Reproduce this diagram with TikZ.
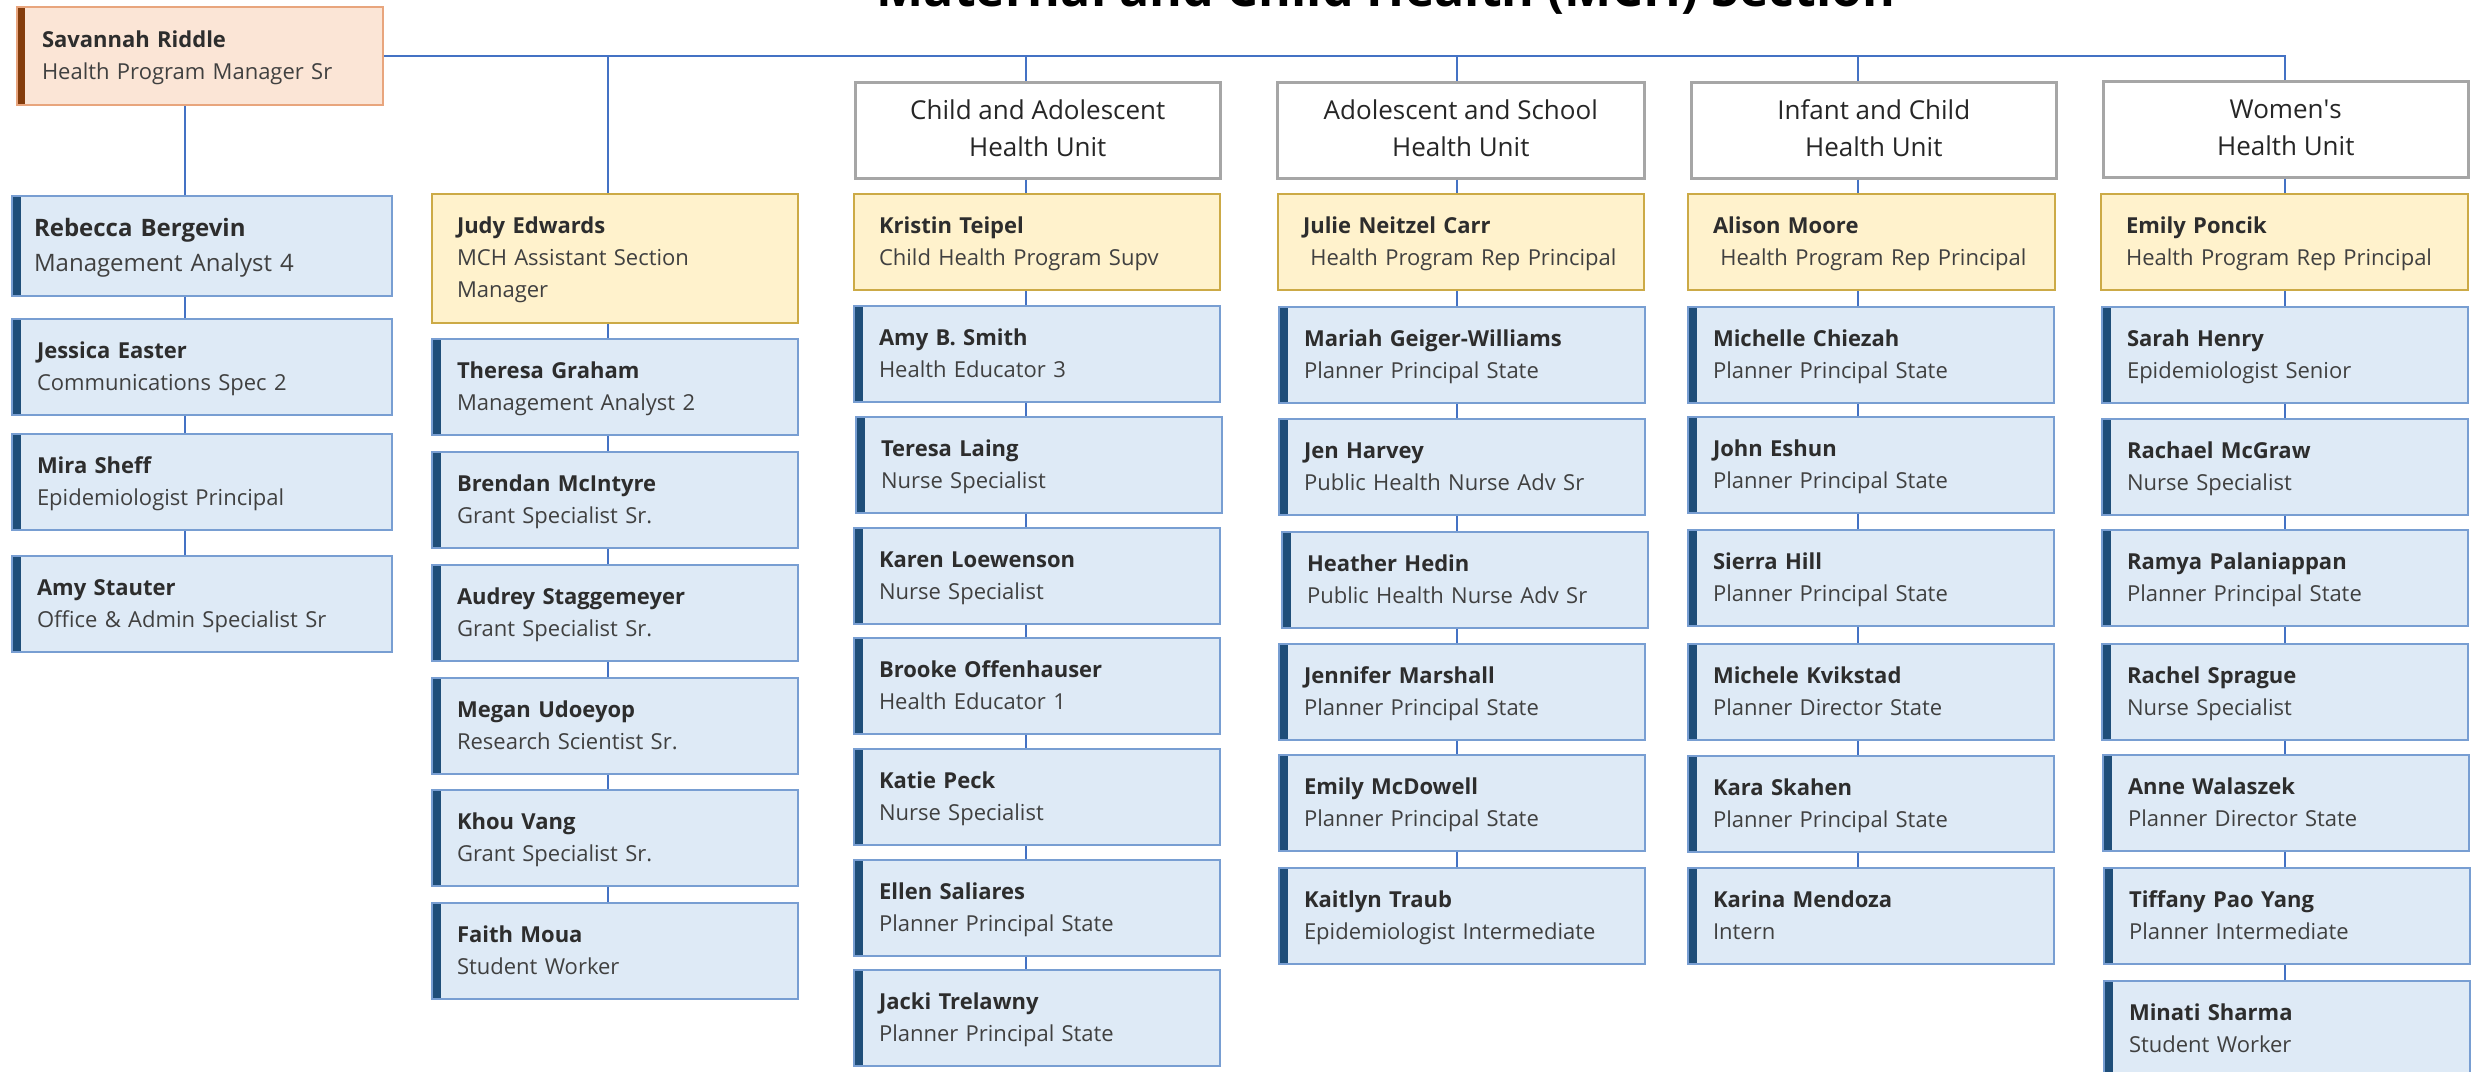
\documentclass[tikz,border=0pt]{standalone}
\usepackage{fontspec}
\setmainfont{Open Sans}
\definecolor{bfill}{RGB}{222,234,246}
\definecolor{bborder}{RGB}{120,158,210}
\definecolor{bbar}{RGB}{31,78,121}
\definecolor{yfill}{RGB}{255,242,204}
\definecolor{yborder}{RGB}{204,170,70}
\definecolor{ybar}{RGB}{127,96,0}
\definecolor{pfill}{RGB}{251,229,214}
\definecolor{pborder}{RGB}{232,165,125}
\definecolor{pbar}{RGB}{132,60,12}
\definecolor{hgray}{RGB}{166,166,166}
\definecolor{conn}{RGB}{68,114,196}
\definecolor{ntext}{RGB}{45,45,45}
\definecolor{ttext}{RGB}{64,64,64}
\newcommand\topstrut{\rule{0pt}{20pt}}
\newcommand\botstrut{\rule[-5pt]{0pt}{5pt}}
\newcommand\Person[7]{\node[#1, minimum width=#4pt, minimum height=#5pt, text width=#4pt-50pt] (#2) at (#3) {\topstrut{\color{ntext}\textbf{#6}}\\#7\botstrut};}
\newcommand\Unit[4]{\node[hdr, minimum width=#3pt] (#1) at (#2) {\rule{0pt}{22pt}#4\rule[-6pt]{0pt}{6pt}};}
\begin{document}
\begin{tikzpicture}[x=1pt,y=-1pt,
  pbase/.style={rectangle, draw, line width=2pt, anchor=north west, inner xsep=25pt, inner ysep=0pt, align=left, text=ttext, font=\fontsize{22}{32}\selectfont},
  bluebox/.style={pbase, fill=bfill, draw=bborder, path picture={\fill[bbar] (path picture bounding box.north west) rectangle ([xshift=9pt]path picture bounding box.south west);}},
  yelbox/.style={pbase, fill=yfill, draw=yborder, path picture={\fill[ybar] (path picture bounding box.north west) rectangle ([xshift=8pt]path picture bounding box.south west);}},
  pchbox/.style={pbase, fill=pfill, draw=pborder, path picture={\fill[pbar] (path picture bounding box.north west) rectangle ([xshift=8pt]path picture bounding box.south west);}},
  bigbox/.style={bluebox, inner xsep=22pt, font=\fontsize{24}{35}\selectfont},
  hdr/.style={rectangle, draw=hgray, line width=2.5pt, fill=white, anchor=north west, minimum height=96pt, align=center, inner sep=0pt, text=black!85, font=\fontsize{26}{37}\selectfont},
  link/.style={draw=conn, line width=2pt}
]
\useasboundingbox (0,0) rectangle (2478,1071);
\clip (0,0) rectangle (2478,1071);
\fill[white] (0,0) rectangle (2478,1071);

% title (cut at the top edge, as in the original)
\node[anchor=base, inner sep=0pt, font=\bfseries\fontsize{50}{60}\selectfont, text=black] (title) at (1386,6) {Maternal and Child Health (MCH) Section};

% top manager
\Person{pchbox}{sav}{16,6}{366}{98}{Savannah Riddle}{Health Program Manager Sr}

% column line positions
\coordinate (L1) at (185,55);
\coordinate (L2) at (608,55);
\coordinate (L3) at (1026,55);
\coordinate (L4) at (1457,55);
\coordinate (L5) at (1858,55);
\coordinate (L6) at (2285,55);

% column 1
\node[bigbox, minimum width=380pt, minimum height=100pt, text width=336pt] (reb) at (11,195) {\rule{0pt}{22pt}{\color{ntext}\textbf{Rebecca Bergevin}}\\Management Analyst 4\rule[-6pt]{0pt}{6pt}};
\Person{bluebox}{jes}{11,318}{380}{96}{Jessica Easter}{Communications Spec 2}
\Person{bluebox}{mir}{11,433}{380}{96}{Mira Sheff}{Epidemiologist Principal}
\Person{bluebox}{ams}{11,555}{380}{96}{Amy Stauter}{Office \& Admin Specialist Sr}

% column 2
\node[yelbox, minimum width=366pt, minimum height=129pt, text width=316pt] (jud) at (431,193) {\topstrut{\color{ntext}\textbf{Judy Edwards}}\\MCH Assistant Section\\Manager\botstrut};
\Person{bluebox}{the}{431,338}{366}{96}{Theresa Graham}{Management Analyst 2}
\Person{bluebox}{bre}{431,451}{366}{96}{Brendan McIntyre}{Grant Specialist Sr.}
\Person{bluebox}{aud}{431,564}{366}{96}{Audrey Staggemeyer}{Grant Specialist Sr.}
\Person{bluebox}{meg}{431,677}{366}{96}{Megan Udoeyop}{Research Scientist Sr.}
\Person{bluebox}{kho}{431,789}{366}{96}{Khou Vang}{Grant Specialist Sr.}
\Person{bluebox}{fai}{431,902}{366}{96}{Faith Moua}{Student Worker}

% column 3
\Unit{h3}{854,81}{365}{Child and Adolescent\\Health Unit}
\Person{yelbox}{kri}{853,193}{366}{96}{Kristin Teipel}{Child Health Program Supv}
\Person{bluebox}{abs}{853,305}{366}{96}{Amy B. Smith}{Health Educator 3}
\Person{bluebox}{tla}{855,416}{366}{96}{Teresa Laing}{Nurse Specialist}
\Person{bluebox}{kar}{853,527}{366}{96}{Karen Loewenson}{Nurse Specialist}
\Person{bluebox}{bro}{853,637}{366}{96}{Brooke Offenhauser}{Health Educator 1}
\Person{bluebox}{kat}{853,748}{366}{96}{Katie Peck}{Nurse Specialist}
\Person{bluebox}{ell}{853,859}{366}{96}{Ellen Saliares}{Planner Principal State}
\Person{bluebox}{jac}{853,969}{366}{96}{Jacki Trelawny}{Planner Principal State}

% column 4
\Unit{h4}{1276,81}{367}{Adolescent and School\\Health Unit}
\Person{yelbox}{jul}{1277,193}{366}{96}{Julie Neitzel Carr}{\ Health Program Rep Principal}
\Person{bluebox}{mar}{1278,306}{366}{96}{Mariah Geiger-Williams}{Planner Principal State}
\Person{bluebox}{jen}{1278,418}{366}{96}{Jen Harvey}{Public Health Nurse Adv Sr}
\Person{bluebox}{hea}{1281,531}{366}{96}{Heather Hedin}{Public Health Nurse Adv Sr}
\Person{bluebox}{jma}{1278,643}{366}{96}{Jennifer Marshall}{Planner Principal State}
\Person{bluebox}{emc}{1278,754}{366}{96}{Emily McDowell}{Planner Principal State}
\Person{bluebox}{kai}{1278,867}{366}{96}{Kaitlyn Traub}{Epidemiologist Intermediate}

% column 5
\Unit{h5}{1690,81}{365}{Infant and Child\\Health Unit}
\Person{yelbox}{ali}{1687,193}{367}{96}{Alison Moore}{\ Health Program Rep Principal}
\Person{bluebox}{mic}{1687,306}{366}{96}{Michelle Chiezah}{Planner Principal State}
\Person{bluebox}{joh}{1687,416}{366}{96}{John Eshun}{Planner Principal State}
\Person{bluebox}{sie}{1687,529}{366}{96}{Sierra Hill}{Planner Principal State}
\Person{bluebox}{mkv}{1687,643}{366}{96}{Michele Kvikstad}{Planner Director State}
\Person{bluebox}{kas}{1687,755}{366}{96}{Kara Skahen}{Planner Principal State}
\Person{bluebox}{kme}{1687,867}{366}{96}{Karina Mendoza}{Intern}

% column 6
\Unit{h6}{2102,80}{365}{Women\textquotesingle s\\Health Unit}
\Person{yelbox}{emp}{2100,193}{367}{96}{Emily Poncik}{Health Program Rep Principal}
\Person{bluebox}{sah}{2101,306}{366}{96}{Sarah Henry}{Epidemiologist Senior}
\Person{bluebox}{rmc}{2101,418}{366}{96}{Rachael McGraw}{Nurse Specialist}
\Person{bluebox}{rpa}{2101,529}{366}{96}{Ramya Palaniappan}{Planner Principal State}
\Person{bluebox}{rsp}{2101,643}{366}{96}{Rachel Sprague}{Nurse Specialist}
\Person{bluebox}{ann}{2102,754}{366}{96}{Anne Walaszek}{Planner Director State}
\Person{bluebox}{tif}{2103,867}{366}{96}{Tiffany Pao Yang}{Planner Intermediate}
\Person{bluebox}{min}{2103,980}{366}{96}{Minati Sharma}{Student Worker}

% connectors
\draw[link] (sav.east) -- (L6 |- sav.east) -- (L6 |- h6.north);
\draw[link] (L1 |- sav.south) -- (L1 |- reb.north);
\draw[link] (L2 |- sav.east) -- (L2 |- jud.north);
\draw[link] (L3 |- sav.east) -- (L3 |- h3.north);
\draw[link] (L4 |- sav.east) -- (L4 |- h4.north);
\draw[link] (L5 |- sav.east) -- (L5 |- h5.north);
\foreach \a/\b in {reb/jes, jes/mir, mir/ams}
  \draw[link] (L1 |- \a.south) -- (L1 |- \b.north);
\foreach \a/\b in {jud/the, the/bre, bre/aud, aud/meg, meg/kho, kho/fai}
  \draw[link] (L2 |- \a.south) -- (L2 |- \b.north);
\foreach \a/\b in {h3/kri, kri/abs, abs/tla, tla/kar, kar/bro, bro/kat, kat/ell, ell/jac}
  \draw[link] (L3 |- \a.south) -- (L3 |- \b.north);
\foreach \a/\b in {h4/jul, jul/mar, mar/jen, jen/hea, hea/jma, jma/emc, emc/kai}
  \draw[link] (L4 |- \a.south) -- (L4 |- \b.north);
\foreach \a/\b in {h5/ali, ali/mic, mic/joh, joh/sie, sie/mkv, mkv/kas, kas/kme}
  \draw[link] (L5 |- \a.south) -- (L5 |- \b.north);
\foreach \a/\b in {h6/emp, emp/sah, sah/rmc, rmc/rpa, rpa/rsp, rsp/ann, ann/tif, tif/min}
  \draw[link] (L6 |- \a.south) -- (L6 |- \b.north);
\end{tikzpicture}
\end{document}
